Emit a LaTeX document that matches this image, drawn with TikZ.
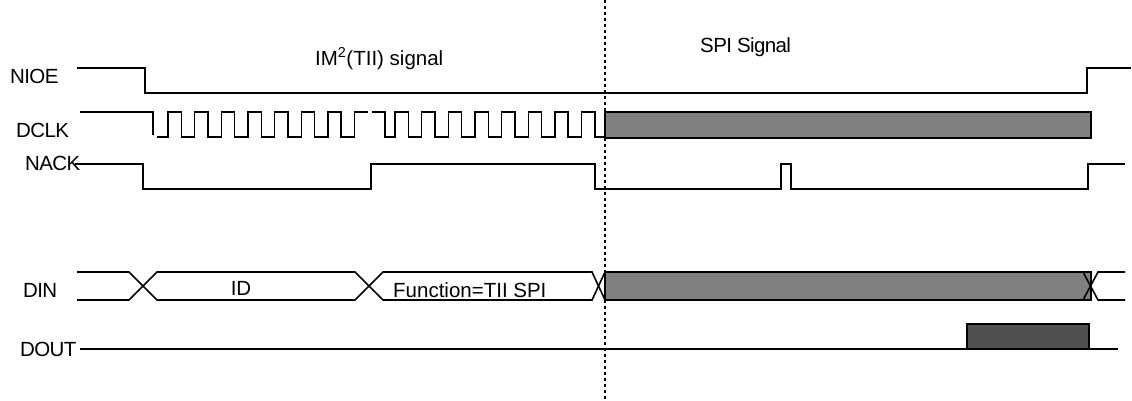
\documentclass[tikz,border=0pt]{standalone}
\usepackage{fontspec}
\setmainfont{Liberation Sans}
\usepackage{xcolor}
\usepackage{tikz}
\definecolor{busgray}{RGB}{128,128,128}
\definecolor{outgray}{RGB}{80,80,80}
\tikzset{sig label/.style={anchor=base west,inner sep=0pt,font=\fontsize{20.5}{22}\selectfont},
            name label/.style={sig label,font=\fontsize{20.5}{22}\selectfont\addfontfeature{LetterSpace=-3}},
            wave/.style={draw,line width=1.6pt,line join=miter},
            }

\begin{document}
\begin{tikzpicture}[x=1pt,y=-1pt]
				\useasboundingbox (0,0) rectangle (1132,400);
				% signal names
				\node[name label] (nioe) at (10,83) {NIOE};
				\node[name label] (dclk) at (16,137) {DCLK};
				\node[name label] (nack) at (25,170) {NACK};
				\node[name label] (din) at (23,297) {DIN};
				\node[name label] (dout) at (20,356) {DOUT};
				\node[sig label] (im) at (315,65) {IM\textsuperscript{2}(TII) signal};
				\node[name label] (spi) at (700,52) {SPI Signal};
				
				% phase border
				\draw[line width=1.5pt,dash pattern=on 3pt off 3pt] (605,0) -- (605,400);
				
				% NIOE
				\draw[wave] (77,68) -- (145,68) -- (145,93) -- (1087,93) -- (1087,68) -- (1131,68);
				
				% DCLK
				\draw[wave] (80,112) -- (153,112) -- (153,135);
				\draw[wave] (157,137) -- (168,137)
					\foreach \k in {1,...,7} {-- ++(0,-25) -- ++(13.33,0) -- ++(0,25) -- ++(13.33,0)}
					-- ++(0,-25) -- (368,112);
				\draw[wave] (372,112) -- (385,112) -- (385,137) -- (395,137)
					\foreach \k in {1,...,7} {-- ++(0,-25) -- ++(13.33,0) -- ++(0,25) -- ++(13.33,0)}
					-- ++(0,-25) -- ++(13.33,0) -- ++(0,25) -- (605,137);
				\draw[wave,fill=busgray] (605,112) rectangle (1091,138);
				
				% NACK
				\draw[wave] (75,164) -- (143,164) -- (143,189) -- (371,189) -- (371,164) -- (595,164)
					-- (595,189) -- (781,189) -- (781,164) -- (791,164) -- (791,189) -- (1088,189)
					-- (1088,164) -- (1125,164);
				
				% DIN
				\draw[wave] (77,272) -- (129,272) -- (157,300) -- (355,300) -- (383,272) -- (592,272) -- (605,300);
				\draw[wave] (77,300) -- (129,300) -- (157,272) -- (355,272) -- (383,300) -- (592,300) -- (605,272);
				\draw[wave,fill=busgray] (605,272) rectangle (1091,300);
				\draw[wave] (1083,272) -- (1098,300) -- (1125,300);
				\draw[wave] (1083,300) -- (1098,272) -- (1125,272);
				\node[sig label,anchor=base] (id) at (241,295) {ID};
				\node[sig label] (func) at (393,297) {Function=TII SPI};
				
				% DOUT
				\draw[wave] (80,349) -- (1118,349);
				\draw[wave,fill=outgray] (967,324) rectangle (1089,349);
			\end{tikzpicture}
\end{document}
